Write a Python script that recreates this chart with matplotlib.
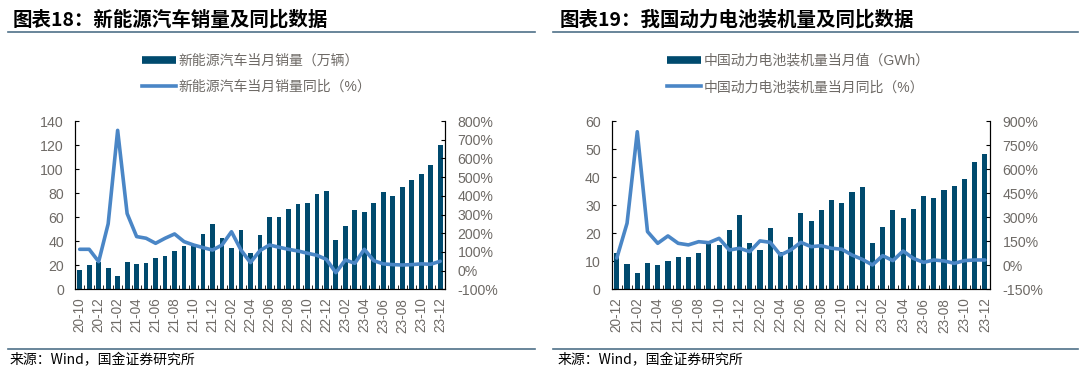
import numpy as np
import pandas as pd
import matplotlib
matplotlib.use('Agg')
import matplotlib.pyplot as plt
from matplotlib.lines import Line2D
from matplotlib.ticker import FuncFormatter, MultipleLocator

plt.rcParams['font.family'] = ['Liberation Sans', 'Noto Sans CJK SC', 'DejaVu Sans']

# ---- 数据 ----
months_18 = pd.period_range('2020-10', '2023-12', freq='M').strftime('%y-%m').tolist()
nev_sales = [16, 20, 23, 18, 11, 23, 21, 22, 26, 28, 32, 36, 38, 46, 54,
             43, 34, 49, 30, 45, 60, 60, 67, 71, 72, 79, 82,
             41, 53, 66, 64, 72, 81, 78, 85, 91, 96, 103, 120]
nev_yoy = [114, 114, 48, 250, 750, 305, 182, 173, 146, 173, 196, 155, 137, 123, 110,
           137, 208, 110, 43, 107, 137, 125, 114, 105, 93, 82, 60,
           -11, 57, 39, 114, 53, 36, 32, 30, 32, 36, 34, 50]

months_19 = pd.period_range('2020-12', '2023-12', freq='M').strftime('%y-%m').tolist()
battery = [13.1, 8.9, 5.8, 9.3, 8.7, 10.0, 11.4, 11.5, 12.8, 16.0, 15.7, 21.1, 26.5,
           16.4, 13.9, 21.7, 13.3, 18.8, 27.3, 24.5, 28.2, 32.0, 30.9, 34.6, 36.5,
           16.4, 22.2, 28.2, 25.4, 28.6, 33.3, 32.6, 35.3, 36.7, 39.4, 45.3, 48.2]
battery_yoy = [45, 262, 833, 210, 137, 183, 137, 127, 147, 141, 168, 95, 106,
               85, 152, 143, 64, 95, 143, 116, 122, 106, 100, 64, 37,
               2, 60, 29, 89, 43, 18, 33, 27, 12, 29, 33, 33]

BAR = '#004a6e'
LINE = '#4a86c6'
GREY = '#6e6a66'


def draw(rect, cats, bars, yoy, ylim, ystep, y2lim, y2step, bar_lbl, line_lbl, leg_x):
    ax = fig.add_axes(rect)
    x = np.arange(len(cats))
    ax.bar(x, bars, width=0.5, color=BAR, zorder=2)
    ax.set_xlim(-0.5, len(cats) - 0.5)
    ax.set_ylim(*ylim)
    ax.yaxis.set_major_locator(MultipleLocator(ystep))
    ax.set_xticks(x)
    ax.set_xticklabels([c if i % 2 == 0 else '' for i, c in enumerate(cats)],
                       rotation=90, fontsize=9.8, color=GREY)
    ax.set_xticks(x[:-1] + 0.5, minor=True)
    ax.tick_params(axis='x', which='major', length=0, pad=6)
    ax.tick_params(axis='x', which='minor', direction='in', length=3)
    ax.tick_params(axis='y', direction='in', length=3, labelsize=10.2,
                   labelcolor=GREY, pad=8)
    ax.spines['top'].set_visible(False)

    ax2 = ax.twinx()
    ax2.plot(x, yoy, color=LINE, lw=2.6, solid_joinstyle='round',
             solid_capstyle='round', zorder=3)
    ax2.set_ylim(*y2lim)
    ax2.yaxis.set_major_locator(MultipleLocator(y2step))
    ax2.yaxis.set_major_formatter(FuncFormatter(lambda v, p: f'{v:.0f}%'))
    ax2.tick_params(axis='y', direction='in', length=3, labelsize=10.2,
                    labelcolor=GREY, pad=9)
    ax2.spines['top'].set_visible(False)

    handles = [Line2D([], [], color=BAR, lw=5.5, solid_capstyle='butt'),
               Line2D([], [], color=LINE, lw=2.6)]
    ax.legend(handles, [bar_lbl, line_lbl], loc='lower left',
              bbox_to_anchor=(leg_x, 1.16), frameon=False, fontsize=10,
              labelcolor=GREY, handlelength=2.5, handletextpad=0.15,
              labelspacing=0.9, borderaxespad=0, borderpad=0)
    return ax


fig = plt.figure(figsize=(10.8, 3.72), dpi=100)

draw([0.0694, 0.2223, 0.3426, 0.4524], months_18, nev_sales, nev_yoy,
     (0, 140), 20, (-100, 800), 100,
     '新能源汽车当月销量（万辆）', '新能源汽车当月销量同比（%）', 0.18)
draw([0.5664, 0.2223, 0.3503, 0.4524], months_19, battery, battery_yoy,
     (0, 60), 10, (-150, 900), 150,
     '中国动力电池装机量当月值（GWh）', '中国动力电池装机量当月同比（%）', 0.145)

# 标题、分隔线、来源
fig.text(0.012, 0.946, '图表18：新能源汽车销量及同比数据', fontsize=14,
         fontweight='bold', style='italic', va='center', family=['Noto Sans CJK SC'])
fig.text(0.518, 0.946, '图表19：我国动力电池装机量及同比数据', fontsize=14,
         fontweight='bold', style='italic', va='center', family=['Noto Sans CJK SC'])
for x0, x1 in [(0.007, 0.495), (0.512, 0.998)]:
    fig.add_artist(Line2D([x0, x1], [0.913, 0.913], color='#4f7189', lw=1.2))
    fig.add_artist(Line2D([x0, x1], [0.062, 0.062], color='#4f7189', lw=1.2))
fig.text(0.009, 0.031, '来源：Wind，国金证券研究所', fontsize=10, va='center',
         family=['Noto Sans CJK SC'])
fig.text(0.516, 0.031, '来源：Wind，国金证券研究所', fontsize=10, va='center',
         family=['Noto Sans CJK SC'])

fig.savefig('out.png', dpi=100)
